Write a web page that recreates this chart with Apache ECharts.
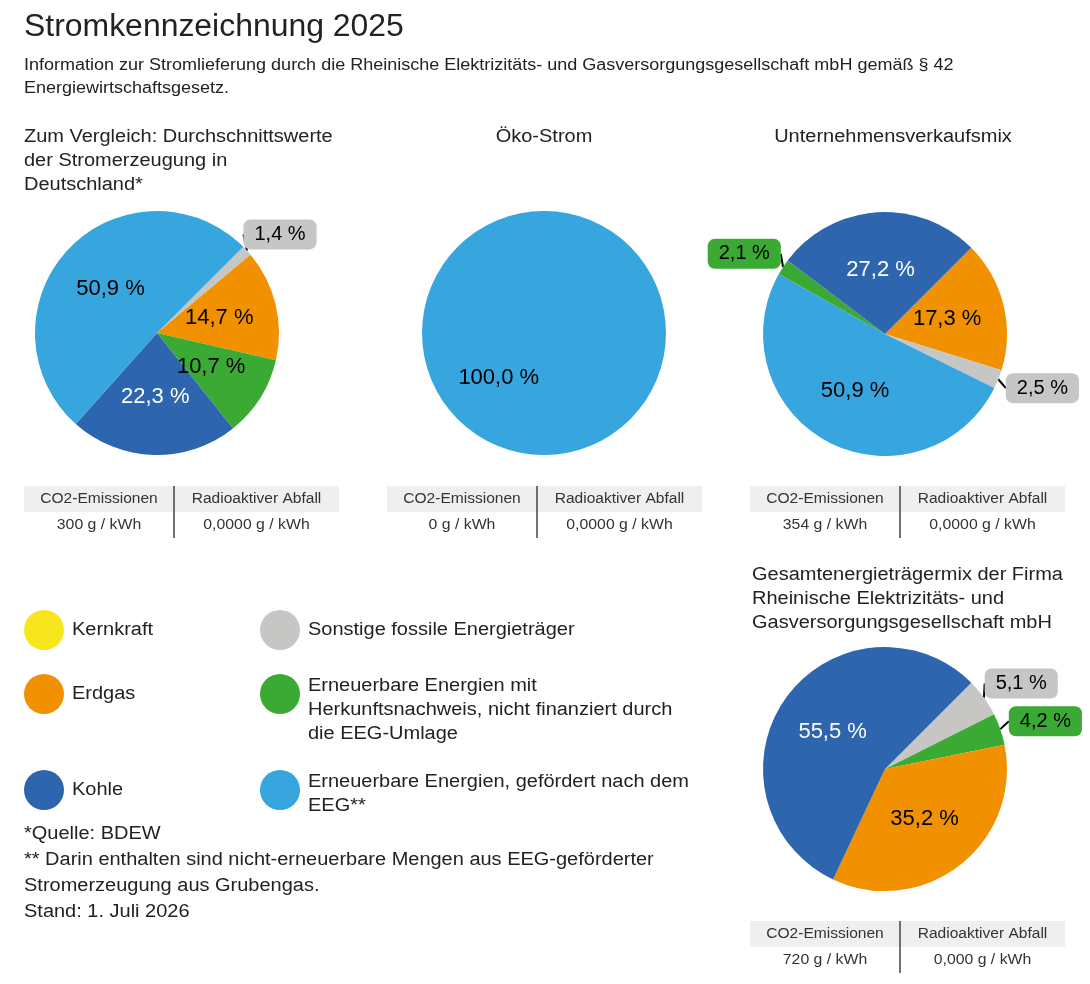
<!DOCTYPE html>
<html>
<head>
<meta charset="utf-8">
<style>
  html, body { margin: 0; padding: 0; background: #fff; }
  #chart { width: 1090px; height: 984px; }
</style>
<script src="https://cdn.jsdelivr.net/npm/echarts@6/dist/echarts.min.js"></script>
</head>
<body>
<div id="chart"></div>
<script>
// Energieträger und Farben
var carriers = ['Kernkraft', 'Sonstige fossile Energieträger', 'Erdgas',
  'Erneuerbare Energien mit Herkunftsnachweis, nicht finanziert durch die EEG-Umlage',
  'Kohle', 'Erneuerbare Energien, gefördert nach dem EEG**'];
var colors = ['#f8e61c', '#c6c6c5', '#f19100', '#3aaa35', '#2d66ae', '#38a6de'];

// Legende (Zeilen wie im Bild umbrochen)
var legendLines = [
  ['Kernkraft'],
  ['Sonstige fossile Energieträger'],
  ['Erdgas'],
  ['Erneuerbare Energien mit', 'Herkunftsnachweis, nicht finanziert durch', 'die EEG-Umlage'],
  ['Kohle'],
  ['Erneuerbare Energien, gefördert nach dem', 'EEG**']
];

// Kreisdiagramme: Index in carriers, Werte in %
var mixDeutschland = [1, 2, 3, 4, 5];
var valDeutschland = [1.4, 14.7, 10.7, 22.3, 50.9];
var mixOeko = [5];
var valOeko = [100.0];
var mixVerkauf = [2, 1, 5, 3, 4];
var valVerkauf = [17.3, 2.5, 50.9, 2.1, 27.2];
var mixGesamt = [1, 3, 2, 4];
var valGesamt = [5.1, 4.2, 35.2, 55.5];

// Tabellen
var tableHead = ['CO2-Emissionen', 'Radioaktiver Abfall'];
var tableDeutschland = ['300 g / kWh', '0,0000 g / kWh'];
var tableOeko = ['0 g / kWh', '0,0000 g / kWh'];
var tableVerkauf = ['354 g / kWh', '0,0000 g / kWh'];
var tableGesamt = ['720 g / kWh', '0,000 g / kWh'];

var FONT = '"Liberation Sans", Arial, sans-serif';
var TXT = '#222';
var SMALL = 6; // kleinere Anteile stehen außen im Kästchen

var myChart = echarts.init(document.getElementById('chart'));

function fmt(v) {
  return v.toFixed(1).replace('.', ',') + ' %';
}

// Außenbeschriftung: Kästchen schräg neben den Rand setzen
function outsideLayout(params) {
  var pts = params.labelLinePoints;
  if (!pts || pts.length < 2) return {};
  var p0 = pts[0], p1 = pts[1];
  var dx = p1[0] - p0[0], dy = p1[1] - p0[1];
  var len = Math.sqrt(dx * dx + dy * dy) || 1;
  var ux = dx / len, uy = dy / len;
  var w = params.labelRect.width, h = params.labelRect.height;
  var sign = ux >= 0 ? 1 : -1;
  var nearX = p0[0] + sign * (3 + 58 * (Math.abs(ux) - 0.85));
  var cy = p0[1] + 24 * uy;
  return {
    x: sign > 0 ? nearX : nearX - w,
    y: cy - h / 2,
    align: 'left',
    verticalAlign: 'top'
  };
}

function pieSeries(mix, vals, cx, cy) {
  var data = mix.map(function (ci, i) {
    var item = {
      name: carriers[ci],
      value: vals[i],
      itemStyle: { color: colors[ci] },
      label: { color: ci === 4 ? '#fff' : '#000' }
    };
    if (vals[i] < SMALL) {
      item.label = {
        position: 'outside',
        fontSize: 20,
        color: '#000',
        backgroundColor: colors[ci],
        borderRadius: 7,
        padding: [5, 11, 5, 11]
      };
      item.labelLine = { show: true };
    }
    return item;
  });
  return {
    type: 'pie',
    center: [cx, cy],
    radius: 122,
    startAngle: 45,
    clockwise: true,
    silent: true,
    animation: false,
    avoidLabelOverlap: false,
    label: {
      show: true,
      position: 'inside',
      fontFamily: FONT,
      fontSize: 22,
      formatter: function (p) { return fmt(p.value); }
    },
    labelLine: {
      show: false,
      length: 6,
      length2: 0,
      lineStyle: { color: '#000', width: 2 }
    },
    labelLayout: function (params) {
      if (vals[params.dataIndex] >= SMALL) return {};
      return outsideLayout(params);
    },
    data: data
  };
}

function text(x, y, str, size, align, color, sx) {
  return {
    type: 'text',
    x: x, y: y,
    scaleX: sx || 1,
    silent: true,
    style: {
      text: str,
      font: size + 'px ' + FONT,
      fill: color || TXT,
      textAlign: align || 'left',
      textVerticalAlign: 'middle'
    }
  };
}

function lines(x, y, arr, size, step, align, sx) {
  return arr.map(function (s, i) { return text(x, y + i * step, s, size, align, null, sx); });
}

function table(x0, x1, xm, y0, row) {
  var els = [];
  els.push({ type: 'rect', silent: true, shape: { x: x0, y: y0, width: x1 - x0, height: 26 }, style: { fill: '#efefef' } });
  els.push({ type: 'line', silent: true, shape: { x1: xm, y1: y0, x2: xm, y2: y0 + 52 }, style: { stroke: '#444', lineWidth: 1.5 } });
  els.push(text((x0 + xm) / 2, y0 + 13, tableHead[0], 14, 'center', '#333', 1.11));
  els.push(text((xm + x1) / 2, y0 + 13, tableHead[1], 14, 'center', '#333', 1.11));
  els.push(text((x0 + xm) / 2, y0 + 39, row[0], 14, 'center', '#333', 1.13));
  els.push(text((xm + x1) / 2, y0 + 39, row[1], 14, 'center', '#333', 1.13));
  return els;
}

var graphics = [];
graphics.push(text(24, 27, 'Stromkennzeichnung 2025', 31, 'left', null, 1.03));
graphics = graphics.concat(lines(24, 66, [
  'Information zur Stromlieferung durch die Rheinische Elektrizitäts- und Gasversorgungsgesellschaft mbH gemäß § 42',
  'Energiewirtschaftsgesetz.'], 16, 23, 'left', 1.125));
graphics = graphics.concat(lines(24, 137, ['Zum Vergleich: Durchschnittswerte', 'der Stromerzeugung in', 'Deutschland*'], 18, 24, 'left', 1.11));
graphics.push(text(544, 137, 'Öko-Strom', 18, 'center', null, 1.11));
graphics.push(text(893, 137, 'Unternehmensverkaufsmix', 18, 'center', null, 1.11));
graphics = graphics.concat(lines(752, 575, ['Gesamtenergieträgermix der Firma', 'Rheinische Elektrizitäts- und', 'Gasversorgungsgesellschaft mbH'], 18, 24, 'left', 1.11));

graphics = graphics.concat(table(24, 339, 174, 486, tableDeutschland));
graphics = graphics.concat(table(387, 702, 537, 486, tableOeko));
graphics = graphics.concat(table(750, 1065, 900, 486, tableVerkauf));
graphics = graphics.concat(table(750, 1065, 900, 921, tableGesamt));

// Legende: zwei Spalten, drei Zeilen
var legX = [44, 280];
var legY = [630, 694, 790];
legendLines.forEach(function (ls, i) {
  var col = i % 2, row = Math.floor(i / 2);
  graphics.push({ type: 'circle', silent: true, shape: { cx: legX[col], cy: legY[row], r: 20 }, style: { fill: colors[i] } });
  var ty = ls.length > 1 ? legY[row] - 8 : legY[row];
  graphics = graphics.concat(lines(legX[col] + 28, ty, ls, 18, 24, 'left', 1.11));
});

graphics = graphics.concat(lines(24, 834, [
  '*Quelle: BDEW',
  '** Darin enthalten sind nicht-erneuerbare Mengen aus EEG-geförderter',
  'Stromerzeugung aus Grubengas.',
  'Stand: 1. Juli 2026'], 18, 26, 'left', 1.11));

var option = {
  backgroundColor: '#fff',
  animation: false,
  textStyle: { fontFamily: FONT },
  graphic: { elements: graphics },
  series: [
    pieSeries(mixDeutschland, valDeutschland, 157, 333),
    pieSeries(mixOeko, valOeko, 544, 333),
    pieSeries(mixVerkauf, valVerkauf, 885, 334),
    pieSeries(mixGesamt, valGesamt, 885, 769)
  ]
};
myChart.setOption(option);
</script>
</body>
</html>
